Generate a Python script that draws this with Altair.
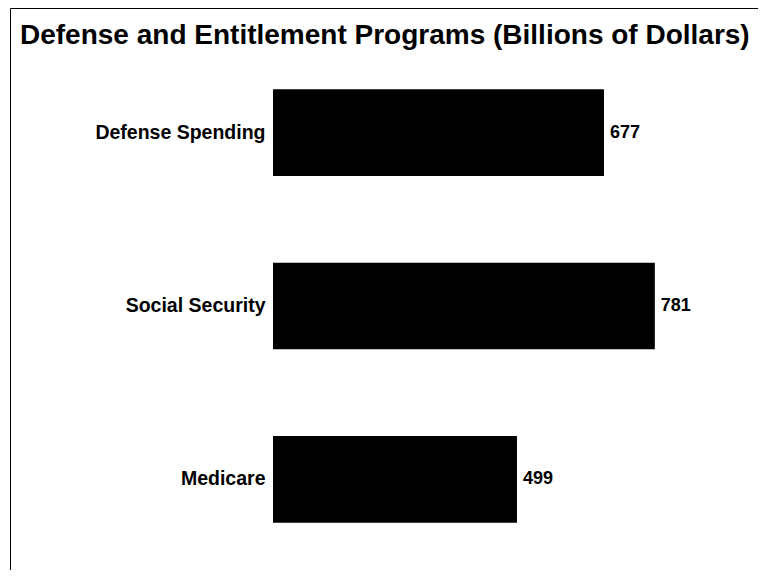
import altair as alt
import pandas as pd

programs = ["Defense Spending", "Social Security", "Medicare"]
spending = [677, 781, 499]

df = pd.DataFrame({"program": programs, "spending": spending})
frame_df = pd.DataFrame({"k": [0]})

FONT = "Liberation Sans"

y_enc = alt.Y(
    "program:N",
    sort=programs,
    scale=alt.Scale(paddingInner=0.5, paddingOuter=0.25),
    axis=alt.Axis(
        title=None, domain=False, ticks=False, labelPadding=8,
        labelFont=FONT, labelFontSize=19.5, labelFontWeight="bold",
        labelColor="black", labelLimit=300,
    ),
)
x_enc = alt.X("spending:Q", scale=alt.Scale(domain=[0, 990], nice=False), axis=None)

bars = alt.Chart(df).mark_bar(color="black").encode(x=x_enc, y=y_enc)
labels = alt.Chart(df).mark_text(
    align="left", baseline="middle", dx=6, font=FONT, fontSize=18,
    fontWeight="bold", color="black",
).encode(x=x_enc, y=y_enc, text="spending:Q")

frame = alt.Chart(frame_df).mark_rect(
    filled=False, stroke="black", strokeWidth=1
).encode(
    x=alt.value(-262.5), x2=alt.value(700),
    y=alt.value(-37.5), y2=alt.value(700),
)

chart = alt.layer(frame, bars, labels).properties(
    width=484,
    height=520,
    padding={"left": 265, "top": 38, "right": 1, "bottom": 4},
    autosize=alt.AutoSizeParams(type="none"),
    background="white",
    title=alt.TitleParams(
        "Defense and Entitlement Programs (Billions of Dollars)",
        anchor="start", frame="group", font=FONT, fontSize=28,
        fontWeight="bold", color="black", offset=0, dx=-253, dy=64,
        baseline="alphabetic",
    ),
).configure_view(stroke="transparent", strokeWidth=0)

chart.save("out.html", embed_options={"renderer": "svg", "actions": False})
